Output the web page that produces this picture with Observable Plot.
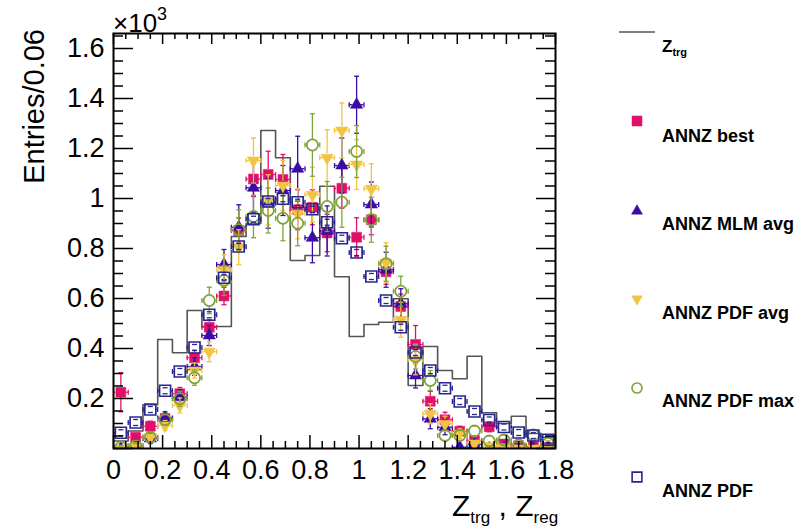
<!DOCTYPE html>
<html><head><meta charset="utf-8">
<script src="https://cdn.jsdelivr.net/npm/d3@7"></script>
<script src="https://cdn.jsdelivr.net/npm/@observablehq/plot@0.6"></script>
<style>
html,body{margin:0;padding:0;background:#fff;}
#chart{width:801px;height:527px;}
</style></head><body><div id="chart"></div>
<script>
// ---- data (×10^3 entries per 0.06 bin) ----
const binCenters = [0.03,0.09,0.15,0.21,0.27,0.33,0.39,0.45,0.51,0.57,0.63,0.69,0.75,0.81,0.87,0.93,0.99,1.05,1.11,1.17,1.23,1.29,1.35,1.41,1.47,1.53,1.59,1.65,1.71,1.77];
const binHalfWidth = 0.03;
const ztrg   = [0.03,0.07,0.175,0.436,0.383,0.552,0.488,0.488,0.848,0.90,1.272,1.163,0.752,0.772,1.049,0.687,0.448,0.496,0.505,0.599,0.252,0.408,0.312,0.279,0.369,0.143,0.10,0.129,0.06,0.045];
const best   = [0.225,0.045,0.089,0.12,0.219,0.363,0.485,0.61,0.872,1.078,1.096,1.076,0.955,0.965,0.862,1.041,0.845,0.915,0.707,0.568,0.416,0.189,0.115,0.069,0.032,0.087,0.018,0.011,0.008,0.004];
const bestErr= [0.078,0.015,0.02,0.02,0.025,0.03,0.03,0.035,0.05,0.07,0.093,0.1,0.08,0.07,0.075,0.08,0.078,0.06,0.05,0.05,0.076,0.04,0.03,0.02,0.015,0.02,0.01,0.01,0.01,0.01];
const mlm    = [0.0,0.01,0.04,0.122,0.205,0.328,0.452,0.736,0.885,1.043,0.981,1.032,1.119,0.843,0.87,1.132,1.375,0.976,0.715,0.579,0.292,0.119,0.085,0.005,0.016,0.0,0.0,0.0,0.0,0.0];
const mlmErr = [0,0.01,0.02,0.025,0.03,0.035,0.04,0.06,0.09,0.1,0.1,0.1,0.13,0.1,0.1,0.11,0.114,0.09,0.07,0.06,0.05,0.04,0.03,0.01,0.01,0,0,0,0,0];
const pdfAvg = [0.0,0.01,0.045,0.092,0.172,0.312,0.387,0.715,0.805,1.152,0.995,1.052,0.939,1.015,1.163,1.272,1.136,1.039,0.743,0.515,0.355,0.139,0.099,0.059,0.02,0.01,0.005,0.0,0.0,0.0];
const avgErr = [0,0.01,0.02,0.02,0.03,0.03,0.04,0.06,0.07,0.09,0.1,0.1,0.1,0.11,0.112,0.11,0.1,0.1,0.08,0.07,0.06,0.04,0.03,0.02,0.01,0.01,0,0,0,0];
const pdfMax = [0.005,0.01,0.045,0.115,0.199,0.283,0.592,0.672,0.875,0.928,0.952,0.921,0.901,1.214,0.968,0.985,1.188,0.915,0.739,0.629,0.368,0.272,0.052,0.052,0.07,0.03,0.034,0.014,0.054,0.02];
const maxErr = [0.005,0.01,0.02,0.02,0.03,0.03,0.053,0.06,0.08,0.085,0.09,0.09,0.09,0.125,0.1,0.1,0.104,0.09,0.07,0.06,0.05,0.04,0.02,0.02,0.02,0.02,0.02,0.01,0.02,0.01];
const pdf    = [0.063,0.104,0.156,0.231,0.308,0.404,0.535,0.683,0.808,0.917,0.988,0.999,0.985,0.957,0.905,0.841,0.784,0.688,0.592,0.485,0.384,0.312,0.241,0.188,0.148,0.114,0.086,0.064,0.052,0.035];
const pdfErr = [0.012,0.012,0.012,0.012,0.012,0.012,0.012,0.012,0.012,0.012,0.012,0.012,0.012,0.012,0.012,0.012,0.012,0.012,0.012,0.012,0.012,0.012,0.012,0.012,0.012,0.012,0.012,0.012,0.012,0.012];

const xTickVals  = [0,0.2,0.4,0.6,0.8,1,1.2,1.4,1.6,1.8];
const xTickTexts = ["0","0.2","0.4","0.6","0.8","1","1.2","1.4","1.6","1.8"];
const yTickVals  = [0.2,0.4,0.6,0.8,1,1.2,1.4,1.6];
const yTickTexts = ["0.2","0.4","0.6","0.8","1","1.2","1.4","1.6"];
const legendNames = ["ANNZ best","ANNZ MLM avg","ANNZ PDF avg","ANNZ PDF max","ANNZ PDF"];

// ---- styling ----
const FONT = "'Liberation Sans', Arial, Helvetica, sans-serif";
const W = 801, H = 527, ML = 113, MR = 246, MT = 33, MB = 79;
const PW = W - ML - MR, PH = H - MT - MB;
const Y_MAX = 1.66;
const pxPerY = PH / Y_MAX;

const hLine = {draw(ctx, size){ const r = Math.sqrt(size/Math.PI); ctx.moveTo(-r,0); ctx.lineTo(r,0); }};
const vLine = {draw(ctx, size){ const r = Math.sqrt(size/Math.PI); ctx.moveTo(0,-r); ctx.lineTo(0,r); }};
const downTri = {draw(ctx, size){ const y = Math.sqrt(size/(Math.sqrt(3)*3)); ctx.moveTo(0,2*y); ctx.lineTo(-Math.sqrt(3)*y,-y); ctx.lineTo(Math.sqrt(3)*y,-y); ctx.closePath(); }};

const series = [
  {name: legendNames[0], vals: best,   errs: bestErr, color: "#e0106a", symbol: "square",   filled: true,  r: 5.6, gap: 5,   legSize: 100},
  {name: legendNames[1], vals: mlm,    errs: mlmErr,  color: "#3a0ca3", symbol: "triangle", filled: true,  r: 4.6, gap: 4,   legSize: 52},
  {name: legendNames[2], vals: pdfAvg, errs: avgErr,  color: "#f2c443", symbol: downTri,    filled: true,  r: 4.6, gap: 4,   legSize: 52},
  {name: legendNames[3], vals: pdfMax, errs: maxErr,  color: "#7fa33a", symbol: "circle",   filled: false, r: 5.6, gap: 5.6, legSize: 80},
  {name: legendNames[4], vals: pdf,    errs: pdfErr,  color: "#27278f", symbol: "square",   filled: false, r: 6.2, gap: 5.6, legSize: 95}
];

// step-histogram points (left edges + closing edge)
const histPts = binCenters.map((c,i) => ({x: c - binHalfWidth, y: ztrg[i]}));
histPts.push({x: binCenters[binCenters.length-1] + binHalfWidth, y: ztrg[ztrg.length-1]});

const marks = [];
marks.push(Plot.lineY(histPts, {x: "x", y: "y", curve: "step-after", stroke: "#555", strokeWidth: 1.6, clip: true}));

for (const s of series) {
  const pts = binCenters.map((c,i) => ({x: c, v: s.vals[i], e: s.errs[i]}));
  const errPts = pts.filter(d => d.e > 0);
  const longErr = errPts.filter(d => d.e * pxPerY > s.gap + 0.5);
  const common = {stroke: s.color, strokeWidth: 1.3, clip: true};
  // horizontal bars (bin width), gapped around the marker
  marks.push(Plot.ruleY(pts, {y: "v", x1: d => d.x - binHalfWidth, x2: "x", insetRight: s.gap, ...common}));
  marks.push(Plot.ruleY(pts, {y: "v", x1: "x", x2: d => d.x + binHalfWidth, insetLeft: s.gap, ...common}));
  // vertical error bars, gapped around the marker
  marks.push(Plot.ruleX(longErr, {x: "x", y1: d => d.v + d.e, y2: "v", insetBottom: s.gap, ...common}));
  marks.push(Plot.ruleX(longErr, {x: "x", y1: "v", y2: d => d.v - d.e, insetTop: s.gap, ...common}));
  // end caps
  marks.push(Plot.dot(errPts, {x: "x", y: d => d.v + d.e, symbol: hLine, r: 2.5, fill: "none", ...common}));
  marks.push(Plot.dot(errPts, {x: "x", y: d => d.v - d.e, symbol: hLine, r: 2.5, fill: "none", ...common}));
  marks.push(Plot.dot(pts, {x: d => d.x - binHalfWidth, y: "v", symbol: vLine, r: 2.5, fill: "none", ...common}));
  marks.push(Plot.dot(pts, {x: d => d.x + binHalfWidth, y: "v", symbol: vLine, r: 2.5, fill: "none", ...common}));
  // markers
  marks.push(Plot.dot(pts, {x: "x", y: "v", symbol: s.symbol, r: s.r,
    fill: s.filled ? s.color : "none", stroke: s.color, strokeWidth: s.filled ? 0.5 : 1.7, clip: true}));
}

// ticks (ROOT style, inside frame on all sides)
const xMinor = d3.range(0, 1.8001, 0.05).filter(v => Math.abs(v/0.2 - Math.round(v/0.2)) > 1e-6);
const yMinor = d3.range(0, Y_MAX + 0.0001, 0.05).filter(v => Math.abs(v/0.2 - Math.round(v/0.2)) > 1e-6);
const yMajor = [0].concat(yTickVals);
marks.push(Plot.ruleX(xTickVals, {x: d => d, insetTop: PH - 13, stroke: "#000", strokeWidth: 1.5}));
marks.push(Plot.ruleX(xMinor,    {x: d => d, insetTop: PH - 7,  stroke: "#000", strokeWidth: 1.5}));
marks.push(Plot.ruleX(xTickVals, {x: d => d, insetBottom: PH - 11, stroke: "#000", strokeWidth: 1.5}));
marks.push(Plot.ruleX(xMinor,    {x: d => d, insetBottom: PH - 6,  stroke: "#000", strokeWidth: 1.5}));
marks.push(Plot.ruleY(yMajor, {y: d => d, insetRight: PW - 20, stroke: "#000", strokeWidth: 1.5}));
marks.push(Plot.ruleY(yMinor, {y: d => d, insetRight: PW - 10, stroke: "#000", strokeWidth: 1.5}));
marks.push(Plot.ruleY(yMajor, {y: d => d, insetLeft: PW - 19, stroke: "#000", strokeWidth: 1.5}));
marks.push(Plot.ruleY(yMinor, {y: d => d, insetLeft: PW - 10, stroke: "#000", strokeWidth: 1.5}));
marks.push(Plot.frame({stroke: "#000", strokeWidth: 2}));

// tick labels
marks.push(Plot.text(xTickVals, {x: d => d, frameAnchor: "bottom", dy: 22, text: (d,i) => xTickTexts[i], fontSize: 27, fill: "#000", lineAnchor: "middle"}));
marks.push(Plot.text(yTickVals, {y: d => d, frameAnchor: "left", dx: -9, text: (d,i) => yTickTexts[i], fontSize: 27, fill: "#000", textAnchor: "end", lineAnchor: "middle"}));

const svgEl = Plot.plot({
  width: W, height: H,
  marginLeft: ML, marginRight: MR, marginTop: MT, marginBottom: MB,
  style: {fontFamily: FONT, background: "#fff", overflow: "visible"},
  x: {domain: [0, 1.8], axis: null},
  y: {domain: [0, Y_MAX], axis: null},
  marks
});
document.getElementById("chart").appendChild(svgEl);

// ---- extra texts and legend ----
const svg = d3.select(svgEl);
const g = svg.append("g").attr("font-family", FONT).attr("fill", "#000").attr("text-anchor", "start");

// ×10^3
const e3 = g.append("text").attr("x", ML).attr("y", 32).attr("font-size", 26);
e3.append("tspan").text("×10");
e3.append("tspan").attr("font-size", 18).attr("dy", -12).text("3");

// y axis title
g.append("text").attr("transform", "translate(44,29) rotate(-90)").attr("text-anchor", "end")
  .attr("font-size", 29).text("Entries/0.06");

// x axis title
const xt = g.append("text").attr("x", 452).attr("y", 516).attr("font-size", 30);
xt.append("tspan").text("Z");
xt.append("tspan").attr("font-size", 17).attr("dy", 7).text("trg");
xt.append("tspan").attr("dy", -7).text(" , Z");
xt.append("tspan").attr("font-size", 17).attr("dy", 7).text("reg");

// legend
const lg = svg.append("g").attr("font-family", FONT).attr("text-anchor", "start").attr("fill", "#000");
lg.append("line").attr("x1", 619).attr("x2", 655).attr("y1", 32).attr("y2", 32).attr("stroke", "#555").attr("stroke-width", 1.6);
const zl = lg.append("text").attr("x", 662).attr("y", 52).attr("font-size", 17).attr("font-weight", "bold");
zl.append("tspan").text("Z");
zl.append("tspan").attr("font-size", 11).attr("dy", 4).text("trg");

const legY = [121, 211, 299, 388, 477];
const legT = [142, 230, 319, 407, 497];
const symMap = {square: d3.symbolSquare, triangle: d3.symbolTriangle, circle: d3.symbolCircle};
series.forEach((s, i) => {
  const sym = typeof s.symbol === "string" ? symMap[s.symbol] : s.symbol;
  lg.append("path").attr("transform", `translate(637,${legY[i]})`)
    .attr("d", d3.symbol(sym, s.legSize)())
    .attr("fill", s.filled ? s.color : "none").attr("stroke", s.color).attr("stroke-width", s.filled ? 0.5 : 1.6);
  lg.append("text").attr("x", 662).attr("y", legT[i]).attr("font-size", 18).attr("font-weight", "bold").text(s.name);
});
</script>
</body></html>
